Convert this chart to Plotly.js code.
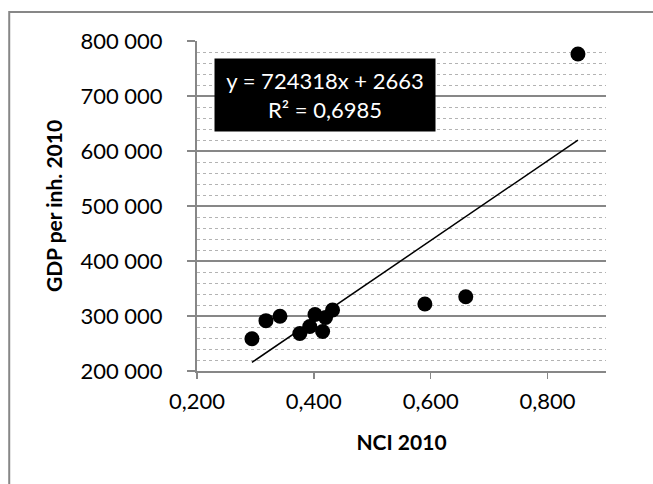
<!DOCTYPE html>
<html>
<head>
<meta charset="utf-8">
<script src="https://cdn.plot.ly/plotly-3.0.1.min.js"></script>
<style>
html,body{margin:0;padding:0;background:#fff;}
#chart{width:653px;height:484px;}
</style>
</head>
<body>
<div id="chart"></div>
<script>
// NCI 2010 (x) vs GDP per inhabitant 2010 (y)
const nci = [0.294, 0.318, 0.342, 0.376, 0.393, 0.402, 0.415, 0.420, 0.432, 0.590, 0.660, 0.852];
const gdp = [258700, 291500, 299500, 268200, 280900, 302700, 271800, 297300, 310900, 321800, 335100, 776400];

// Linear trend reported on the chart
const slope = 724318;
const intercept = 2663;
const r2Text = "0,6985";

const xTicks = [0.2, 0.4, 0.6, 0.8];
const yTicks = [200000, 300000, 400000, 500000, 600000, 700000, 800000];

const xMin = Math.min(...nci), xMax = Math.max(...nci);
const trendX = [xMin, xMax];
const trendY = trendX.map(v => slope * v + intercept);

const FONT = "Lato, 'Open Sans', sans-serif";
const GRAY = "#878787";

const traces = [
  {
    x: trendX, y: trendY, type: "scatter", mode: "lines",
    line: {color: "#000", width: 1.5}, hoverinfo: "skip", showlegend: false
  },
  {
    x: nci, y: gdp, type: "scatter", mode: "markers",
    marker: {color: "#000", size: 15}, showlegend: false, cliponaxis: false
  }
];

const layout = {
  width: 653, height: 484,
  margin: {l: 197, r: 46.5, t: 41, b: 113},
  paper_bgcolor: "#fff", plot_bgcolor: "#fff",
  separators: ", ",
  font: {family: FONT, size: 22, color: "#000"},
  showlegend: false,
  xaxis: {
    range: [0.2, 0.9], tickvals: xTicks, tickformat: ".3f",
    showgrid: false, zeroline: false,
    showline: true, linecolor: GRAY, linewidth: 2,
    ticks: "outside", ticklen: 6, tickcolor: GRAY, tickwidth: 1.5,
    ticklabelstandoff: 4,
    title: {text: "NCI 2010", font: {family: FONT, size: 21, color: "#000", weight: "bold"}, standoff: 22}
  },
  yaxis: {
    range: [200000, 800000], tickvals: yTicks, tickformat: ",d",
    showgrid: true, gridcolor: GRAY, gridwidth: 1.5, zeroline: false,
    showline: true, linecolor: GRAY, linewidth: 2,
    ticks: "outside", ticklen: 8, tickcolor: GRAY, tickwidth: 1.5,
    ticklabelstandoff: 20,
    minor: {dtick: 20000, showgrid: true, gridcolor: "#b3b3b3", gridwidth: 1, griddash: "dot", ticks: ""},
    title: {text: "GDP per inh. 2010", font: {family: FONT, size: 21, color: "#000", weight: "bold"}, standoff: 12}
  },
  annotations: [
    {
      x: 0.4188, y: 701800, xref: "x", yref: "y",
      text: "y = " + slope + "x + " + intercept + "<br>R² = " + r2Text,
      showarrow: false, bgcolor: "#000", borderpad: 0,
      width: 220, height: 72, align: "center", valign: "middle",
      font: {family: FONT, size: 22, color: "#fff"}
    }
  ],
  shapes: [
    {
      type: "rect", xref: "paper", yref: "paper",
      x0: (9 - 197) / 409.5, x1: 2, y0: -1, y1: (371 - 12) / 330,
      line: {color: GRAY, width: 2}, fillcolor: "rgba(0,0,0,0)", layer: "below"
    }
  ]
};

Plotly.newPlot("chart", traces, layout, {displayModeBar: false, staticPlot: true});
</script>
</body>
</html>
